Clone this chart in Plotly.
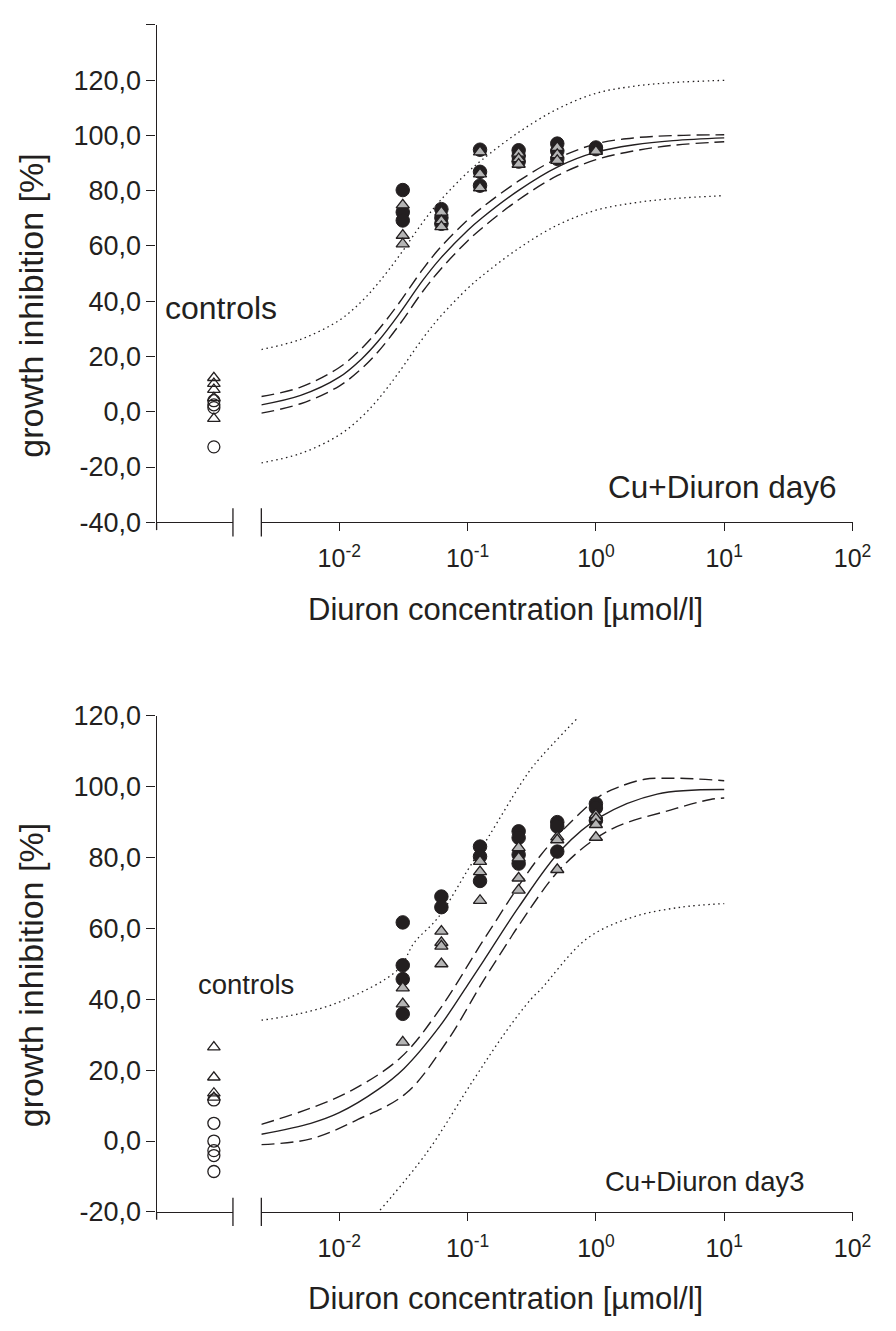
import math
import plotly.graph_objects as go

# ---------------- data ----------------
conc = [0.03125, 0.0625, 0.125, 0.25, 0.5, 1.0]

# Top panel: Cu+Diuron day6
top_circles = [[80.2, 72.2, 69.2], [73.3, 70.2, 68], [94.8, 86.8, 81.8], [94.6, 92.5, 90.5], [97, 94.3, 91.5], [95.6, 95]]
top_triangles = [[74.8, 63.8, 60.7], [72.2, 69.1, 66.9], [94, 86, 81], [93.5, 91.5, 89.5], [95.6, 93, 90.9], [94.6, 94.2]]
top_ctrl_circles = [4, 2.5, 1.5, -12.7]
top_ctrl_triangles = [12.3, 10.2, 8, 5, -2.5]

top_curve_x = [0.00247, 0.005, 0.01, 0.015, 0.02, 0.0287, 0.0447, 0.061, 0.1, 0.13, 0.25, 0.5, 1, 2, 4, 10]
top_fit = [2.5, 5.9, 12.5, 19.2, 25.4, 34.8, 47.5, 55.3, 65.6, 70.2, 80.1, 88.5, 93.9, 96.6, 98.1, 99.1]
top_ci_upper = [5.5, 8.9, 16, 23, 29.4, 38.8, 51.5, 59.3, 69.4, 73.9, 83.5, 91.6, 96.9, 99.1, 99.9, 100.2]
top_ci_lower = [-0.5, 2.9, 9.3, 15.7, 21.6, 30.8, 43.5, 51.3, 61.8, 66.5, 76.7, 85.4, 91.2, 94.4, 96.4, 97.7]
top_pi_upper = [22.5, 26.2, 33.1, 40, 46.4, 55.8, 68.5, 76.3, 86.6, 91.2, 101.1, 109.5, 115.2, 117.8, 119.1, 119.9]
top_pi_lower = [-18.5, -15.1, -8.4, -1.8, 4.4, 13.8, 26.5, 34.3, 44.6, 49.2, 59.1, 67.5, 72.9, 75.6, 77.1, 78.2]

# Bottom panel: Cu+Diuron day3
bot_circles = [[61.7, 49.6, 45.7, 35.9], [69, 66], [83.1, 80.3, 73.4], [87.4, 85.6, 80.8, 78.3], [90, 88.8, 81.7], [95.2, 94, 90.5]]
bot_triangles = [[43.2, 38.7, 27.9], [59.2, 56, 55, 50], [78.9, 76, 67.9], [82.8, 79.9, 74.2, 70.8], [85.8, 85, 76.6], [92, 91, 89.3, 85.7]]
bot_ctrl_circles = [11.6, 5, 0, -2.7, -4.1, -8.6]
bot_ctrl_triangles = [26.5, 18, 13.5, 12.3]

bot_fit_x = [0.00247, 0.006, 0.01, 0.02, 0.032, 0.061, 0.1, 0.134, 0.25, 0.53, 1.1, 3, 10]
bot_fit = [1.9, 5, 8, 14.5, 20.5, 32.5, 44, 51, 66, 82, 91.6, 97.9, 99.2]
bot_ci_upper_x = [0.00247, 0.006, 0.0125, 0.03, 0.061, 0.138, 0.37, 0.75, 1.1, 1.5, 2.4, 3.8, 6, 10]
bot_ci_upper = [4.7, 9.3, 14.3, 23.5, 37.3, 57.6, 80.6, 92.5, 97.6, 99.9, 102.1, 102.4, 102.2, 101.7]
bot_ci_lower_x = [0.00247, 0.006, 0.014, 0.033, 0.069, 0.13, 0.21, 0.25, 0.55, 1.3, 3.8, 7.8, 10]
bot_ci_lower = [-1, 0.6, 6.1, 13.4, 28.1, 44.7, 56.6, 60.8, 77.5, 87.9, 93.4, 96.4, 96.8]
bot_pi_upper_x = [0.00247, 0.005, 0.0106, 0.0287, 0.0384, 0.059, 0.1, 0.147, 0.262, 0.333, 0.73]
bot_pi_upper = [34.1, 36, 39.6, 48.4, 56, 63.1, 76.4, 86.1, 101, 106.3, 119.6]
bot_pi_lower_x = [0.0208, 0.0485, 0.11, 0.2, 0.313, 0.372, 0.85, 1.9, 4.6, 10]
bot_pi_lower = [-19.5, -3.1, 17, 31, 40.1, 42.8, 57.1, 63.1, 66, 67]

x_tickvals = [0.01, 0.1, 1, 10, 100]
x_ticktext = ["10<sup>-2</sup>", "10<sup>-1</sup>", "10<sup>0</sup>", "10<sup>1</sup>", "10<sup>2</sup>"]
top_y_tickvals = [-40, -20, 0, 20, 40, 60, 80, 100, 120, 140]
top_y_ticktext = ["-40,0", "-20,0", "0,0", "20,0", "40,0", "60,0", "80,0", "100,0", "120,0", ""]
bot_y_tickvals = [-20, 0, 20, 40, 60, 80, 100, 120]
bot_y_ticktext = ["-20,0", "0,0", "20,0", "40,0", "60,0", "80,0", "100,0", "120,0"]

# ---------------- styling ----------------
W, H = 896, 1331
INK = "#231f20"
GRAY = "#b5b5b5"
FONT = "Liberation Sans, Arial, sans-serif"


def fx(p):
    return p / W


def fy(p):
    return 1 - p / H


def flat(xs, groups):
    ox, oy = [], []
    for x, g in zip(xs, groups):
        for v in g:
            ox.append(x)
            oy.append(v)
    return ox, oy


fig = go.Figure()

DOT = dict(color=INK, width=1.3, dash="1.5px,3.5px", shape="spline")
DASH = dict(color=INK, width=1.4, dash="13px,6px", shape="spline")
SOLID = dict(color=INK, width=1.4, shape="spline")


def line(x, y, xa, ya, style):
    fig.add_trace(go.Scatter(x=x, y=y, mode="lines", xaxis=xa, yaxis=ya, line=style,
                             hoverinfo="skip"))


def points(xc, xl, ya, circles, triangles, ctrl_c, ctrl_t):
    cx, cy = flat(conc, circles)
    fig.add_trace(go.Scatter(x=cx, y=cy, mode="markers", xaxis=xl, yaxis=ya, cliponaxis=False,
                             marker=dict(symbol="circle", size=13.5, color=INK,
                                         line=dict(color=INK, width=1))))
    tx, ty = flat(conc, triangles)
    fig.add_trace(go.Scatter(x=tx, y=ty, mode="markers", xaxis=xl, yaxis=ya, cliponaxis=False,
                             marker=dict(symbol="triangle-up", size=11.5, color=GRAY,
                                         line=dict(color=INK, width=1.3))))
    fig.add_trace(go.Scatter(x=["controls"] * len(ctrl_c), y=ctrl_c, mode="markers",
                             xaxis=xc, yaxis=ya, cliponaxis=False,
                             marker=dict(symbol="circle-open", size=12, color=INK,
                                         line=dict(width=1.3))))
    fig.add_trace(go.Scatter(x=["controls"] * len(ctrl_t), y=ctrl_t, mode="markers",
                             xaxis=xc, yaxis=ya, cliponaxis=False,
                             marker=dict(symbol="triangle-up-open", size=11, color=INK,
                                         line=dict(width=1.3))))


# top panel
line(top_curve_x, top_pi_upper, "x2", "y", DOT)
line(top_curve_x, top_pi_lower, "x2", "y", DOT)
line(top_curve_x, top_ci_upper, "x2", "y", DASH)
line(top_curve_x, top_ci_lower, "x2", "y", DASH)
line(top_curve_x, top_fit, "x2", "y", SOLID)
points("x", "x2", "y", top_circles, top_triangles, top_ctrl_circles, top_ctrl_triangles)

# bottom panel
line(bot_pi_upper_x, bot_pi_upper, "x4", "y2", DOT)
line(bot_pi_lower_x, bot_pi_lower, "x4", "y2", DOT)
line(bot_ci_upper_x, bot_ci_upper, "x4", "y2", DASH)
line(bot_ci_lower_x, bot_ci_lower, "x4", "y2", DASH)
line(bot_fit_x, bot_fit, "x4", "y2", SOLID)
points("x3", "x4", "y2", bot_circles, bot_triangles, bot_ctrl_circles, bot_ctrl_triangles)

axis_common = dict(showgrid=False, zeroline=False, showline=True, linecolor=INK, linewidth=1.3,
                   tickcolor=INK, tickwidth=1.3, fixedrange=True,
                   tickfont=dict(family=FONT, size=25, color=INK))

ctrl_axis = dict(axis_common, type="category", range=[-0.75, 0.25], ticks="", showticklabels=False)
log_axis = dict(axis_common, type="log", range=[math.log10(0.00247), 2], tickmode="array",
                tickvals=x_tickvals, ticktext=x_ticktext, ticks="outside", ticklen=8,
                ticklabelstandoff=6)

TOP_AX, TOP_TOP = 519, 10
BOT_AX, BOT_TOP = 1224.5, 717
L0, L1, R0, R1 = 160, 238, 267, 871

ytick_font = dict(family=FONT, size=27, color=INK)
fig.update_layout(
    width=W, height=H,
    margin=dict(l=0, r=0, t=0, b=0),
    paper_bgcolor="white", plot_bgcolor="rgba(0,0,0,0)",
    showlegend=False,
    xaxis=dict(ctrl_axis, domain=[fx(L0), fx(L1)], anchor="y"),
    xaxis2=dict(log_axis, domain=[fx(R0), fx(R1)], anchor="y"),
    xaxis3=dict(ctrl_axis, domain=[fx(L0), fx(L1)], anchor="y2"),
    xaxis4=dict(log_axis, domain=[fx(R0), fx(R1)], anchor="y2"),
    yaxis=dict(axis_common, domain=[fy(TOP_AX), fy(TOP_TOP)], range=[-40, 140], anchor="x",
               tickmode="array", tickvals=top_y_tickvals, ticktext=top_y_ticktext,
               ticks="outside", ticklen=9, tickfont=ytick_font),
    yaxis2=dict(axis_common, domain=[fy(BOT_AX), fy(BOT_TOP)], range=[-20, 120], anchor="x3",
                tickmode="array", tickvals=bot_y_tickvals, ticktext=bot_y_ticktext,
                ticks="outside", ticklen=9, tickfont=ytick_font),
)

# axis break marks and corner ticks (decoration)
shapes = []
for ax_y in (TOP_AX, BOT_AX):
    for bx in (L1, R0):
        shapes.append(dict(type="line", xref="paper", yref="paper",
                           x0=fx(bx), x1=fx(bx), y0=fy(ax_y - 14.5), y1=fy(ax_y + 14.5),
                           line=dict(color=INK, width=1.3)))
    shapes.append(dict(type="line", xref="paper", yref="paper",
                       x0=fx(L0), x1=fx(L0), y0=fy(ax_y), y1=fy(ax_y + 8),
                       line=dict(color=INK, width=1.3)))
fig.update_layout(shapes=shapes)


def label(text, x, y, size, xanchor="center", yanchor="middle", angle=0):
    fig.add_annotation(text=text, x=fx(x), y=fy(y), xref="paper", yref="paper",
                       showarrow=False, xanchor=xanchor, yanchor=yanchor, textangle=angle,
                       font=dict(family=FONT, size=size, color=INK))


label("growth inhibition [%]", 32, 297, 34, angle=-90)
label("growth inhibition [%]", 32, 982, 34, angle=-90)
label("Diuron concentration [µmol/l]", 516.5, 608, 31)
label("Diuron concentration [µmol/l]", 516.5, 1313, 31)
label("controls", 167, 300, 32, xanchor="left")
label("controls", 302, 992, 27.5, xanchor="right")
label("Cu+Diuron day6", 857.5, 483, 31.5, xanchor="right")
label("Cu+Diuron day3", 824.5, 1193, 27.5, xanchor="right")

fig.write_html(
    "out.html",
    config={"displayModeBar": False},
    post_script="document.body.style.margin='0';document.body.style.padding='0';"
                "document.documentElement.style.overflow='hidden';",
)
